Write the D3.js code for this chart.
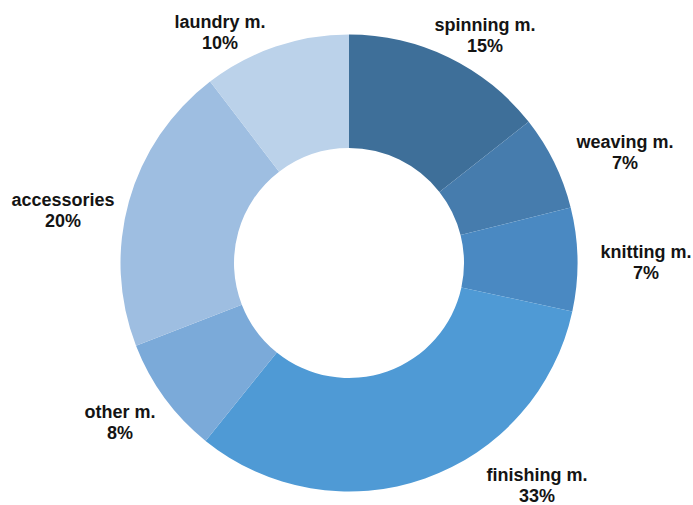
<!DOCTYPE html>
<html>
<head>
<meta charset="utf-8">
<script src="https://cdn.jsdelivr.net/npm/d3@7"></script>
<style>
  html, body { margin: 0; padding: 0; background: #ffffff; }
  svg { display: block; }
</style>
</head>
<body>
<div id="chart"></div>
<script>
// ---- data ----
const categories = ["spinning m.", "weaving m.", "knitting m.", "finishing m.", "other m.", "accessories", "laundry m."];
// slice sizes
const values = [14.4, 6.7, 7.3, 32.4, 8.3, 20.5, 10.4];
const percentLabels = ["15%", "7%", "7%", "33%", "8%", "20%", "10%"];

// ---- style / layout ----
const colors = ["#3e6f99", "#467cad", "#4a89c2", "#4f9ad5", "#7baad9", "#9ebee1", "#bbd2ea"];
// label anchor (centre x, first baseline y) relative to the donut centre
const labelOffsets = [
  [136, -232], [276, -115], [297, -5], [188, 218],
  [-229, 155], [-286, -57], [-129, -235]
];

const W = 693, H = 505;
const cx = 349, cy = 263;
const outerR = 228.5, innerR = 115;

const svg = d3.select("#chart").append("svg")
  .attr("width", W).attr("height", H);

const g = svg.append("g").attr("transform", `translate(${cx},${cy})`);

const pie = d3.pie().sort(null).value(d => d.value);
const arc = d3.arc().innerRadius(innerR).outerRadius(outerR);

const data = categories.map((c, i) => ({ name: c, value: values[i], pct: percentLabels[i], i }));

g.selectAll("path.slice")
  .data(pie(data))
  .join("path")
  .attr("class", "slice")
  .attr("d", arc)
  .attr("fill", d => colors[d.data.i]);

const labels = g.selectAll("text.lbl")
  .data(data)
  .join("text")
  .attr("class", "lbl")
  .attr("text-anchor", "middle")
  .attr("font-family", "'Liberation Sans', Arial, sans-serif")
  .attr("font-weight", "bold")
  .attr("font-size", "18px")
  .attr("fill", "#141414")
  .attr("x", d => labelOffsets[d.i][0])
  .attr("y", d => labelOffsets[d.i][1]);

labels.append("tspan")
  .attr("x", d => labelOffsets[d.i][0])
  .text(d => d.name);
labels.append("tspan")
  .attr("x", d => labelOffsets[d.i][0])
  .attr("dy", 20.5)
  .text(d => d.pct);
</script>
</body>
</html>
